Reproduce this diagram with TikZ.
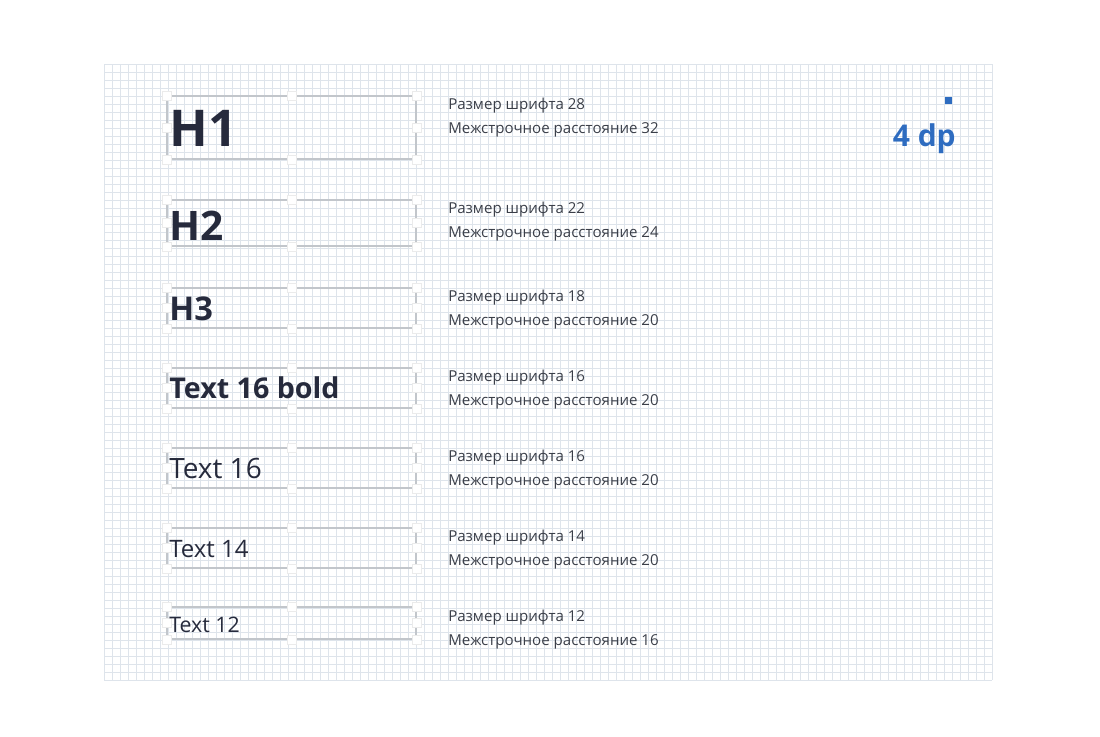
\documentclass[tikz,border=0pt]{standalone}
\usepackage{fontspec}
\setmainfont{Open Sans}
\usetikzlibrary{shadows}
\definecolor{ink}{HTML}{262A3C}
\definecolor{labelgray}{HTML}{3A3E48}
\definecolor{gridblue}{HTML}{DEE4EB}
\definecolor{framegray}{HTML}{C2C6CB}
\definecolor{dpblue}{HTML}{2E6CC0}
\tikzset{
  frame/.style={draw=framegray, line width=0.9pt, minimum width=186.75pt, inner sep=0pt},
  handle/.style={fill=white, draw=black!8, line width=0.3pt, minimum size=6.5pt, inner sep=0pt,
    drop shadow={shadow xshift=0pt, shadow yshift=-0.8pt, fill=black!30}},
  sample/.style={anchor=base west, inner sep=0pt, text=ink},
  spec/.style={anchor=base west, inner sep=0pt, text=labelgray, font=\fontsize{11.3}{12}\selectfont},
}
\newcommand{\handles}[1]{%
  \foreach \a/\n in {north west/nw, north/n, north east/ne, east/e, south east/se, south/s, south west/sw, west/w}
    \node[handle] (#1-\n) at (#1.\a) {};}
\begin{document}
\begin{tikzpicture}[x=0.75pt,y=-0.75pt]
\useasboundingbox (0,0) rectangle (1100,736);
% grid
\foreach \gx in {104,112,...,992} \draw[gridblue, line width=0.5pt] (\gx,64) -- (\gx,680);
\foreach \gy in {64,72,...,680} \draw[gridblue, line width=0.5pt] (104,\gy) -- (992,\gy);
% sample boxes
\node[frame, minimum height=47.25pt] (boxH1) at (291.5,127.5) {};
\node[frame, minimum height=34.5pt] (boxH2) at (291.5,223) {};
\node[frame, minimum height=30pt] (boxH3) at (291.5,308) {};
\node[frame, minimum height=30pt] (boxB16) at (291.5,388) {};
\node[frame, minimum height=30pt] (boxT16) at (291.5,468) {};
\node[frame, minimum height=30pt] (boxT14) at (291.5,548) {};
\node[frame, minimum height=24pt] (boxT12) at (291.5,623) {};
\handles{boxH1}
\handles{boxH2}
\handles{boxH3}
\handles{boxB16}
\handles{boxT16}
\handles{boxT14}
\handles{boxT12}
% samples
\node[sample, font=\fontsize{38}{38}\selectfont\bfseries] (smpH1) at (169,146) {H1};
\node[sample, font=\fontsize{30.5}{30}\selectfont\bfseries] (smpH2) at (169,240) {H2};
\node[sample, font=\fontsize{24.5}{24}\selectfont\bfseries] (smpH3) at (169,320) {H3};
\node[sample, font=\fontsize{21.5}{21}\selectfont\bfseries] (smpB16) at (169,398) {Text 16 bold};
\node[sample, font=\fontsize{21}{21}\selectfont] (smpT16) at (169,478) {Text 16};
\node[sample, font=\fontsize{18}{18}\selectfont] (smpT14) at (169,557) {Text 14};
\node[sample, font=\fontsize{16}{16}\selectfont] (smpT12) at (169,632) {Text 12};
% specs
\node[spec] (szH1) at (448,109) {Размер шрифта 28};
\node[spec] (lhH1) at (448,133) {Межстрочное расстояние 32};
\node[spec] (szH2) at (448,213) {Размер шрифта 22};
\node[spec] (lhH2) at (448,237) {Межстрочное расстояние 24};
\node[spec] (szH3) at (448,301) {Размер шрифта 18};
\node[spec] (lhH3) at (448,325) {Межстрочное расстояние 20};
\node[spec] (szB16) at (448,381) {Размер шрифта 16};
\node[spec] (lhB16) at (448,405) {Межстрочное расстояние 20};
\node[spec] (szT16) at (448,461) {Размер шрифта 16};
\node[spec] (lhT16) at (448,485) {Межстрочное расстояние 20};
\node[spec] (szT14) at (448,541) {Размер шрифта 14};
\node[spec] (lhT14) at (448,565) {Межстрочное расстояние 20};
\node[spec] (szT12) at (448,621) {Размер шрифта 12};
\node[spec] (lhT12) at (448,645) {Межстрочное расстояние 16};
% elevation
\node[fill=dpblue, minimum size=5.5pt, inner sep=0pt] (dpmark) at (948.5,100.5) {};
\node[anchor=base east, inner sep=0pt, text=dpblue, font=\fontsize{22.5}{22}\selectfont\bfseries] (dplabel) at (956,146) {4 dp};
\end{tikzpicture}
\end{document}
